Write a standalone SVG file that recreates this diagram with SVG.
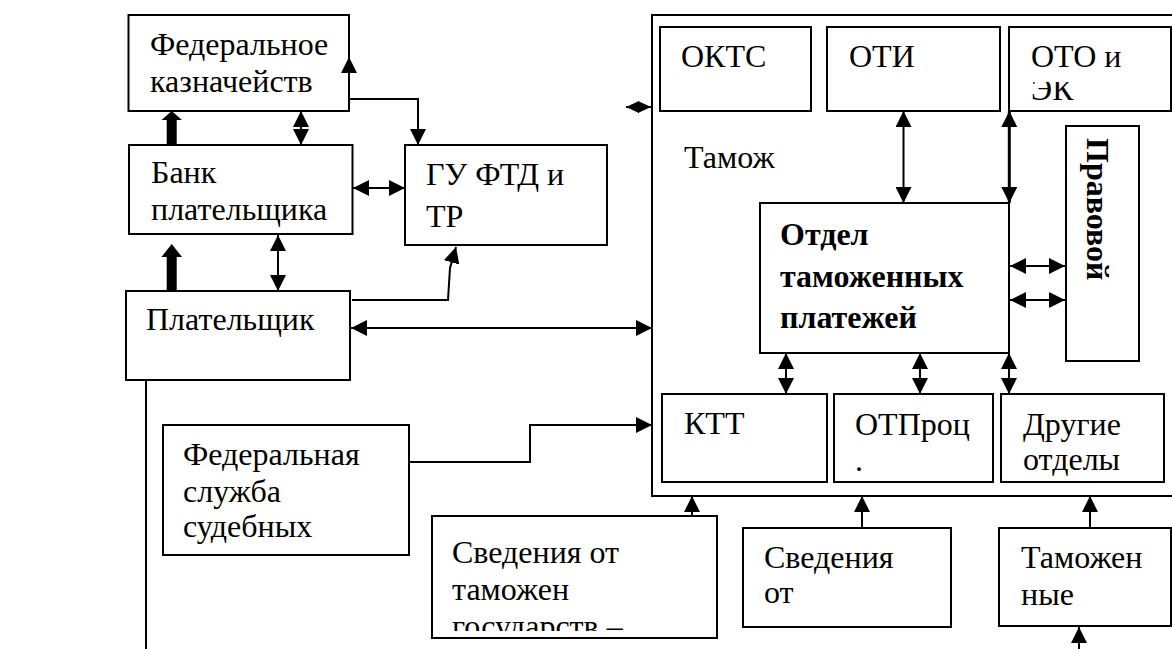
<svg xmlns="http://www.w3.org/2000/svg" width="1172" height="649" viewBox="0 0 1172 649" font-family="'Liberation Serif', 'Times New Roman', Times, serif">
<style>
.box{fill:#fff;stroke:#000;stroke-width:2}
text{font-family:'Liberation Serif', 'Times New Roman', Times, serif}
.t{font-size:32px;fill:#000}
.b{font-weight:bold}
.c{fill:none;stroke:#000;stroke-width:2}
.a2{marker-start:url(#ah);marker-end:url(#ah)}
.a1{marker-end:url(#ah)}
</style>
<defs>
<marker id="ah" markerUnits="userSpaceOnUse" markerWidth="16" markerHeight="16" viewBox="0 0 16 16" refX="16" refY="8" orient="auto-start-reverse">
<path d="M0,0 L16,8 L0,16 z" fill="#000"/>
</marker>
<marker id="sh" markerUnits="userSpaceOnUse" markerWidth="13" markerHeight="12" viewBox="0 0 13 12" refX="13" refY="6" orient="auto-start-reverse">
<path d="M0,0 L13,6 L0,12 z" fill="#000"/>
</marker>
<clipPath id="clipEK"><rect x="1010" y="82" width="160" height="28"/></clipPath>
<clipPath id="clipGos"><rect x="433" y="517" width="283" height="114"/></clipPath>
</defs>
<rect width="1172" height="649" fill="#fff"/>

<g id="container"><rect class="box" x="652" y="15" width="540" height="481"/>
<text class="t" x="684" y="168">Тамож</text></g>

<g id="fk"><rect class="box" x="128.5" y="15" width="220.5" height="96"/>
<text class="t" x="150" y="55">Федеральное</text><text class="t" x="150" y="92">казначейств</text></g>
<g id="bank"><rect class="box" x="129" y="145" width="223.5" height="89"/>
<text class="t" x="151" y="183">Банк</text><text class="t" x="151" y="220">плательщика</text></g>
<g id="gu"><rect class="box" x="405" y="145" width="202" height="100"/>
<text class="t" x="426" y="185">ГУ ФТД и</text><text class="t" x="426" y="227">ТР</text></g>
<g id="payer"><rect class="box" x="126" y="291" width="224" height="89"/>
<text class="t" x="146" y="330">Плательщик</text></g>

<g id="okts"><rect class="box" x="660" y="27" width="151" height="84"/><text class="t" x="681" y="67">ОКТС</text></g>
<g id="oti"><rect class="box" x="827" y="27" width="173" height="84"/><text class="t" x="849" y="67">ОТИ</text></g>
<g id="oto"><rect class="box" x="1009" y="27" width="162" height="84"/><text class="t" x="1031" y="67">ОТО и</text>
<text class="t" x="1031" y="100" clip-path="url(#clipEK)">ЭК</text></g>
<g id="prav"><rect class="box" x="1066" y="126" width="73" height="235"/>
<text class="t b" transform="translate(1087,138) rotate(90)">Правовой</text></g>
<g id="otdel"><rect class="box" x="760" y="203" width="249" height="150"/>
<text class="t b" x="780" y="245">Отдел</text><text class="t b" x="780" y="287">таможенных</text><text class="t b" x="780" y="328">платежей</text></g>
<g id="ktt"><rect class="box" x="662" y="394" width="165" height="88"/><text class="t" x="684" y="434">КТТ</text></g>
<g id="otproc"><rect class="box" x="834" y="394" width="159" height="88"/><text class="t" x="855" y="435">ОТПроц</text><text class="t" x="855" y="471">.</text></g>
<g id="drugie"><rect class="box" x="1001" y="394" width="163" height="88"/><text class="t" x="1023" y="435">Другие</text><text class="t" x="1023" y="470">отделы</text></g>

<g id="fss"><rect class="box" x="163" y="425" width="246" height="130"/>
<text class="t" x="183" y="465">Федеральная</text><text class="t" x="183" y="502">служба</text><text class="t" x="183" y="537">судебных</text></g>
<g id="sved1"><rect class="box" x="432" y="516" width="285" height="122"/>
<text class="t" x="452" y="563">Сведения от</text><text class="t" x="452" y="600">таможен</text>
<text class="t" x="452" y="637" clip-path="url(#clipGos)">государств –</text></g>
<g id="sved2"><rect class="box" x="743" y="528" width="208" height="99"/>
<text class="t" x="764" y="568">Сведения</text><text class="t" x="764" y="603">от</text></g>
<g id="tamozh"><rect class="box" x="999" y="528" width="172" height="98"/>
<text class="t" x="1021" y="568">Таможен</text><text class="t" x="1021" y="605">ные</text></g>

<g id="connectors">
<polygon points="166.7,145 166.7,120 161.5,120 171.7,111 182,120 176.7,120 176.7,145" fill="#000"/>
<polygon points="166.7,291 166.7,257 161.5,257 171.7,244 182,257 176.7,257 176.7,291" fill="#000"/>
<line class="c a2" x1="301" y1="111" x2="301" y2="145"/>
<line class="c a2" x1="278" y1="235" x2="278" y2="291"/>
<line class="c a2" x1="353" y1="188" x2="405" y2="188"/>
<path class="c a2" d="M349,57 V99 H418 V145"/>
<path class="c a1" d="M352,300 H448 L450,268 L456,247"/>
<line class="c a2" x1="351" y1="328" x2="652" y2="328"/>
<line class="c" x1="626" y1="107" x2="651" y2="107" marker-start="url(#sh)" marker-end="url(#sh)"/>
<line class="c a2" x1="903.5" y1="111" x2="903.5" y2="203"/>
<line class="c a2" x1="1009.3" y1="111" x2="1009.3" y2="203" style="stroke-width:3"/>
<line class="c a2" x1="1010" y1="266" x2="1065" y2="266"/>
<line class="c a2" x1="1010" y1="300" x2="1065" y2="300"/>
<line class="c a2" x1="786" y1="353" x2="786" y2="394"/>
<line class="c a2" x1="920" y1="353" x2="920" y2="394"/>
<line class="c a2" x1="1009" y1="353" x2="1009" y2="394"/>
<path class="c a1" d="M409,462 H530 V425 H652"/>
<line class="c a1" x1="692" y1="516" x2="692" y2="496"/>
<line class="c a1" x1="862" y1="528" x2="862" y2="496"/>
<line class="c a1" x1="1090" y1="528" x2="1090" y2="496"/>
<line class="c a1" x1="1079" y1="649" x2="1079" y2="627"/>
<line class="c" x1="146" y1="380" x2="146" y2="649"/>
</g>
</svg>
